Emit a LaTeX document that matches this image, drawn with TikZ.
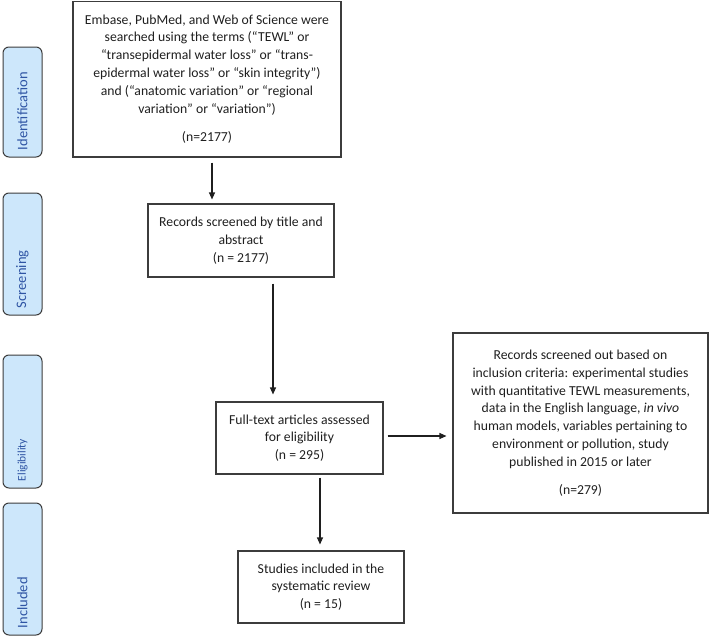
\documentclass[tikz,border=0pt]{standalone}
\usepackage{fontspec}
\setmainfont{Carlito}
\usetikzlibrary{arrows.meta}
\definecolor{phasefill}{HTML}{CDE7FB}
\definecolor{phasetext}{HTML}{2F55A4}
\definecolor{boxline}{HTML}{3C3C3C}
\begin{document}
\begin{tikzpicture}[x=1pt,y=-1pt,
  flowbox/.style={draw=boxline,line width=1.1pt,rectangle,align=center,inner sep=0pt,
    font=\fontsize{13.7}{17.8}\selectfont,text=black!88},
  phase/.style={draw=boxline,line width=1pt,fill=phasefill,rounded corners=6pt,rotate=90,
    text=phasetext,inner xsep=7pt,inner ysep=0pt,minimum height=39pt,align=left},
  arr/.style={line width=1.1pt,draw=black!88,-{Triangle[length=7pt,width=6pt]}}]
\useasboundingbox (0,0) rectangle (709,637);
% phase labels
\node[phase,text width=96pt,font=\fontsize{14.5}{16}\selectfont] (pid) at (22.5,102) {Identification};
\node[phase,text width=108pt,font=\fontsize{14.5}{16}\selectfont] (psc) at (22.5,254) {Screening};
\node[phase,text width=119pt,font=\fontsize{11.5}{13}\selectfont] (pel) at (22.5,421.5) {Eligibility};
\node[phase,text width=118pt,font=\fontsize{14.5}{16}\selectfont] (pin) at (22.5,569) {Included};
% boxes
\node[flowbox,minimum width=268pt,minimum height=155.5pt] (b1) at (207,79.25)
  {Embase, PubMed, and Web of Science were\\
   searched using the terms (“TEWL” or\\
   “transepidermal water loss” or “trans-\\
   epidermal water loss” or “skin integrity”)\\
   and (“anatomic variation” or “regional\\
   variation” or “variation”)\\[11pt]
   (n=2177)};
\node[flowbox,minimum width=186pt,minimum height=73pt] (b2) at (241,240.5)
  {Records screened by title and\\ abstract\\ (n = 2177)};
\node[flowbox,minimum width=167pt,minimum height=72pt] (b3) at (299.5,438)
  {Full-text articles assessed\\ for eligibility\\ (n = 295)};
\node[flowbox,minimum width=255pt,minimum height=180pt] (b4) at (580.5,423)
  {Records screened out based on\\
   inclusion criteria: experimental studies\\
   with quantitative TEWL measurements,\\
   data in the English language, \textit{in vivo}\\
   human models, variables pertaining to\\
   environment or pollution, study\\
   published in 2015 or later\\[10pt]
   (n=279)};
\node[flowbox,minimum width=166pt,minimum height=72pt] (b5) at (321,587)
  {Studies included in the\\ systematic review\\ (n = 15)};
% arrows
\coordinate (a1s) at ([xshift=5pt,yshift=-5pt]b1.south);
\draw[arr,shorten >=4pt] (a1s) -- (a1s |- b2.north);
\coordinate (a2s) at ([xshift=32pt,yshift=-6pt]b2.south);
\draw[arr,shorten >=7pt] (a2s) -- (a2s |- b3.north);
\coordinate (a3s) at ([xshift=4pt,yshift=2pt]b3.east);
\draw[arr,shorten >=6pt] (a3s) -- (a3s -| b4.west);
\coordinate (a4s) at ([xshift=20.5pt,yshift=-3pt]b3.south);
\draw[arr,shorten >=6pt] (a4s) -- (a4s |- b5.north);
\end{tikzpicture}
\end{document}
